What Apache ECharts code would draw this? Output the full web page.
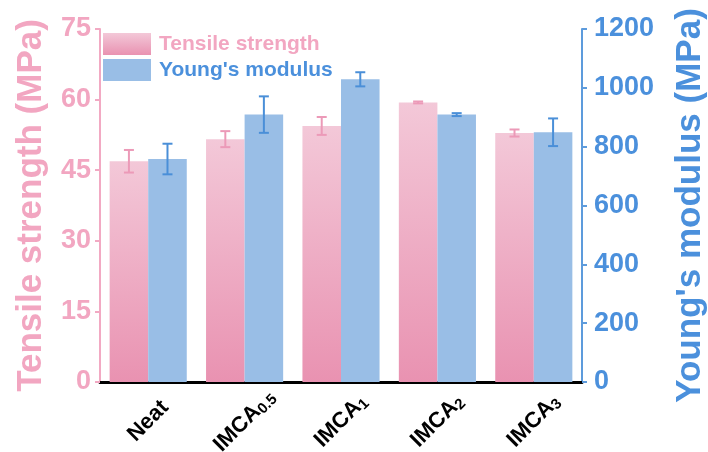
<!DOCTYPE html>
<html>
<head>
<meta charset="utf-8">
<script src="https://cdn.jsdelivr.net/npm/echarts@6/dist/echarts.min.js"></script>
<style>html,body{margin:0;padding:0;background:#fff}#c{width:708px;height:452px}</style>
</head>
<body>
<div id="c"></div>
<script>
const categories = ['Neat', 'IMCA0.5', 'IMCA1', 'IMCA2', 'IMCA3'];
const tensile = [46.9, 51.6, 54.4, 59.4, 52.9];
const tensileErr = [2.4, 1.7, 1.9, 0.2, 0.75];
const modulus = [758, 909, 1029, 909, 849];
const modulusErr = [52, 62, 24, 5, 47];
const leftTicks = { min: 0, max: 75, interval: 15 };
const rightTicks = { min: 0, max: 1200, interval: 200 };

const FONT = 'Arial, "Liberation Sans", sans-serif';
const PINK_TEXT = '#f2a6c1';
const BLUE_TEXT = '#4b90dc';
const PINK_AXIS = '#f2a9c3';
const BLUE_AXIS = '#5d9bdc';

const chart = echarts.init(document.getElementById('c'), null, { renderer: 'canvas' });

function errRender(offsetFrac, color) {
  return function (params, api) {
    const x = api.value(0), v = api.value(1), e = api.value(2);
    const hi = api.coord([x, v + e]);
    const lo = api.coord([x, v - e]);
    const bw = api.size([1, 0])[0];
    const cx = hi[0] + offsetFrac * bw;
    const cap = 5;
    const style = { stroke: color, lineWidth: 2 };
    return {
      type: 'group',
      children: [
        { type: 'line', shape: { x1: cx, y1: hi[1], x2: cx, y2: lo[1] }, style },
        { type: 'line', shape: { x1: cx - cap, y1: hi[1], x2: cx + cap, y2: hi[1] }, style },
        { type: 'line', shape: { x1: cx - cap, y1: lo[1], x2: cx + cap, y2: lo[1] }, style }
      ]
    };
  };
}

const pinkGrad = new echarts.graphic.LinearGradient(0, 0, 0, 1, [
  { offset: 0, color: '#f3c8d8' },
  { offset: 1, color: '#e992b1' }
]);

const option = {
  backgroundColor: '#fff',
  animation: false,
  textStyle: { fontFamily: FONT },
  grid: { left: 100, right: 126, top: 29, bottom: 70, containLabel: false, outerBoundsMode: 'none' },
  legend: {
    orient: 'vertical',
    left: 103,
    top: 33,
    padding: 0,
    itemWidth: 48,
    itemHeight: 22,
    itemGap: 4,
    icon: 'rect',
    textStyle: { fontSize: 21, fontWeight: 'bold', fontFamily: FONT, padding: [0, 0, 0, 3] },
    data: [
      { name: 'Tensile strength', textStyle: { color: PINK_TEXT } },
      { name: "Young's modulus", textStyle: { color: BLUE_TEXT } }
    ]
  },
  xAxis: [
    {
      type: 'category',
      data: categories,
      position: 'bottom',
      axisLine: { lineStyle: { color: '#000', width: 3 } },
      axisTick: { alignWithLabel: true, length: 5, lineStyle: { color: '#000', width: 2 } },
      axisLabel: {
        rotate: 45,
        interval: 0,
        margin: 39,
        align: 'center',
        verticalAlign: 'middle',
        color: '#000',
        formatter: function (v) {
          const m = v.match(/^(IMCA)(.+)$/);
          if (m) return '{a|' + m[1] + '}{s|' + m[2] + '}';
          return '{a|' + v + '}';
        },
        rich: {
          a: { fontSize: 22, fontWeight: 'bold', fontFamily: FONT, color: '#000' },
          s: { fontSize: 15, fontWeight: 'bold', fontFamily: FONT, color: '#000', verticalAlign: 'bottom', padding: [9, 0, 0, 0] }
        }
      }
    },
    {
      type: 'category',
      data: categories,
      position: 'top',
      axisLine: { lineStyle: { color: '#000', width: 2 } },
      axisTick: { show: false },
      axisLabel: { show: false }
    }
  ],
  yAxis: [
    {
      type: 'value',
      min: leftTicks.min, max: leftTicks.max, interval: leftTicks.interval,
      position: 'left',
      name: 'Tensile strength (MPa)',
      nameLocation: 'middle',
      nameRotate: 90,
      nameGap: 51,
      nameTextStyle: { fontSize: 35, fontWeight: 'bold', color: PINK_TEXT, fontFamily: FONT },
      axisLine: { show: true, lineStyle: { color: PINK_AXIS, width: 2 } },
      axisTick: { show: true, length: 5, lineStyle: { color: PINK_AXIS, width: 2 } },
      axisLabel: { fontSize: 27, fontWeight: 'bold', color: PINK_TEXT, margin: 9, fontFamily: FONT },
      splitLine: { show: false }
    },
    {
      type: 'value',
      min: rightTicks.min, max: rightTicks.max, interval: rightTicks.interval,
      position: 'right',
      name: "Young's modulus (MPa)",
      nameLocation: 'middle',
      nameRotate: 90,
      nameGap: 91,
      nameTextStyle: { fontSize: 35, fontWeight: 'bold', color: BLUE_TEXT, fontFamily: FONT },
      axisLine: { show: true, lineStyle: { color: BLUE_AXIS, width: 2 } },
      axisTick: { show: true, length: 5, lineStyle: { color: BLUE_AXIS, width: 2 } },
      axisLabel: { fontSize: 27, fontWeight: 'bold', color: BLUE_TEXT, margin: 12, fontFamily: FONT, formatter: v => String(v) },
      splitLine: { show: false }
    }
  ],
  series: [
    {
      name: 'Tensile strength',
      type: 'bar',
      xAxisIndex: 0,
      yAxisIndex: 0,
      data: tensile,
      barWidth: '40%',
      barGap: '0%',
      itemStyle: { color: pinkGrad }
    },
    {
      name: "Young's modulus",
      type: 'bar',
      xAxisIndex: 0,
      yAxisIndex: 1,
      data: modulus,
      barWidth: '40%',
      barGap: '0%',
      itemStyle: { color: '#99bee6' }
    },
    {
      type: 'custom',
      xAxisIndex: 0,
      yAxisIndex: 0,
      z: 5,
      encode: { x: 0, y: 1 },
      renderItem: errRender(-0.2, '#ec9ab8'),
      data: tensile.map((v, i) => [i, v, tensileErr[i]])
    },
    {
      type: 'custom',
      xAxisIndex: 0,
      yAxisIndex: 1,
      z: 5,
      encode: { x: 0, y: 1 },
      renderItem: errRender(0.2, '#4a8fd8'),
      data: modulus.map((v, i) => [i, v, modulusErr[i]])
    }
  ]
};
chart.setOption(option);
</script>
</body>
</html>
